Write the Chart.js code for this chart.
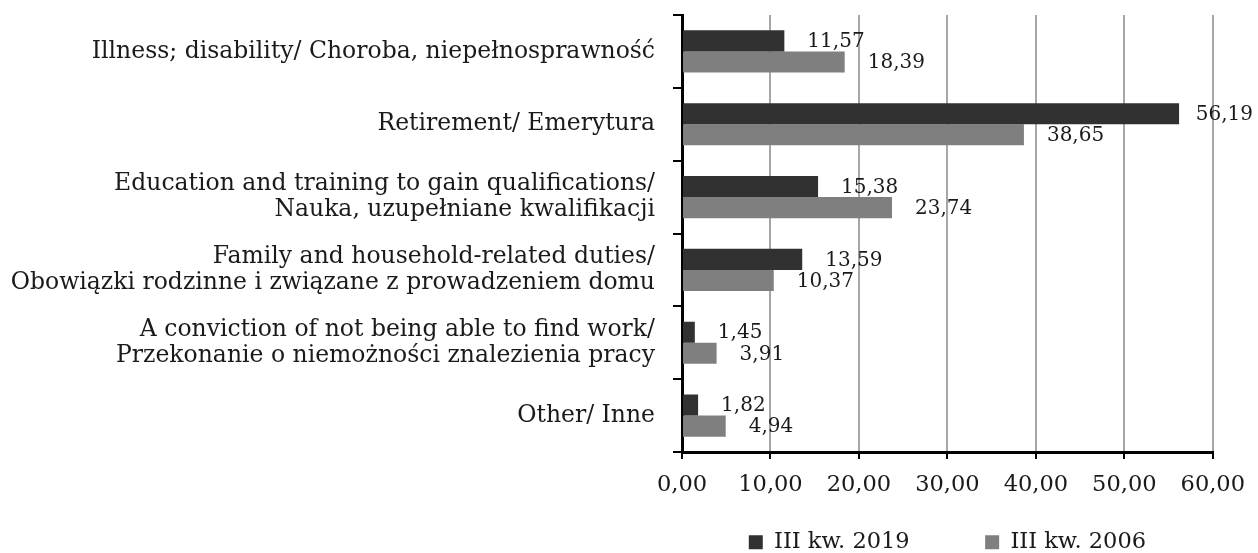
<!DOCTYPE html>
<html lang="pl">
<head>
    <meta charset="UTF-8" />
    <title>Reasons for economic inactivity</title>
    <style>
        body {
            margin: 0;
            background: #fff;
        }
        .chart-box {
            width: 1258px;
            height: 553px;
            position: relative;
        }
    </style>
</head>
<body>
    <div class="chart-box">
        <canvas id="reasonsChart"></canvas>
    </div>

    <script src="https://cdn.jsdelivr.net/npm/chart.js"></script>
    <script>
        const categories = [
            'Illness; disability/ Choroba, niepełnosprawność',
            'Retirement/ Emerytura',
            ['Education and training to gain qualifications/', 'Nauka, uzupełniane kwalifikacji'],
            ['Family and household-related duties/', 'Obowiązki rodzinne i związane z prowadzeniem domu'],
            ['A conviction of not being able to find work/', 'Przekonanie o niemożności znalezienia pracy'],
            'Other/ Inne'
        ];
        const seriesNames = ['III kw. 2019', 'III kw. 2006'];
        const values2019 = [11.57, 56.19, 15.38, 13.59, 1.45, 1.82];
        const values2006 = [18.39, 38.65, 23.74, 10.37, 3.91, 4.94];
        const xMin = 0;
        const xMax = 60;
        const xStep = 10;

        const fmt = v => v.toFixed(2).replace('.', ',');
        const FONT = '"DejaVu Serif", serif';
        const TEXT = '#1a1a1a';

        Chart.defaults.font.family = FONT;
        Chart.defaults.color = TEXT;

        // value labels at the end of each bar (pulled back in if they would run off the canvas)
        const valueLabels = {
            id: 'valueLabels',
            afterDatasetsDraw(chart) {
                const ctx = chart.ctx;
                ctx.save();
                ctx.font = '20px ' + FONT;
                ctx.fillStyle = TEXT;
                ctx.textAlign = 'left';
                ctx.textBaseline = 'middle';
                chart.data.datasets.forEach((ds, i) => {
                    chart.getDatasetMeta(i).data.forEach((bar, j) => {
                        const txt = fmt(ds.data[j]);
                        const w = ctx.measureText(txt).width;
                        const x = Math.min(bar.x + 23, chart.width - 5 - w);
                        ctx.fillText(txt, x, bar.y + 1);
                    });
                });
                ctx.restore();
            }
        };

        new Chart(document.getElementById('reasonsChart'), {
            type: 'bar',
            data: {
                labels: categories,
                datasets: [
                    {
                        label: seriesNames[0],
                        data: values2019,
                        backgroundColor: '#313131',
                        barPercentage: 1,
                        categoryPercentage: 0.58
                    },
                    {
                        label: seriesNames[1],
                        data: values2006,
                        backgroundColor: '#7f7f7f',
                        barPercentage: 1,
                        categoryPercentage: 0.58
                    }
                ]
            },
            options: {
                indexAxis: 'y',
                responsive: true,
                maintainAspectRatio: false,
                animation: false,
                layout: {
                    padding: { top: 15, right: 43, bottom: 0, left: 0 }
                },
                scales: {
                    x: {
                        min: xMin,
                        max: xMax,
                        ticks: {
                            stepSize: xStep,
                            callback: v => fmt(v),
                            font: { size: 22.5 },
                            color: TEXT,
                            padding: 13
                        },
                        grid: {
                            color: '#a6a6a6',
                            lineWidth: 2,
                            tickColor: '#000',
                            tickLength: 7,
                            tickWidth: 2
                        },
                        border: { color: '#000', width: 3 },
                        afterFit: s => { s.height = 75; }
                    },
                    y: {
                        ticks: {
                            font: { size: 23.5, lineHeight: 1.11 },
                            color: TEXT,
                            padding: 18
                        },
                        grid: {
                            offset: true,
                            drawOnChartArea: false,
                            color: '#000',
                            lineWidth: 2,
                            tickLength: 9
                        },
                        border: { color: '#000', width: 3 },
                        afterFit: s => {
                            s.width = 682;
                            s.paddingTop = 0;
                            s.paddingBottom = 0;
                        }
                    }
                },
                plugins: {
                    legend: {
                        position: 'bottom',
                        fullSize: false,
                        maxHeight: 26,
                        labels: {
                            font: { size: 22.5 },
                            color: TEXT,
                            boxWidth: 14,
                            boxHeight: 14,
                            padding: 4,
                            generateLabels: chart => {
                                const items = Chart.defaults.plugins.legend.labels.generateLabels(chart);
                                items[0].text += ' '.repeat(10);
                                return items;
                            }
                        }
                    },
                    tooltip: { enabled: false }
                }
            },
            plugins: [valueLabels]
        });
    </script>
</body>
</html>
